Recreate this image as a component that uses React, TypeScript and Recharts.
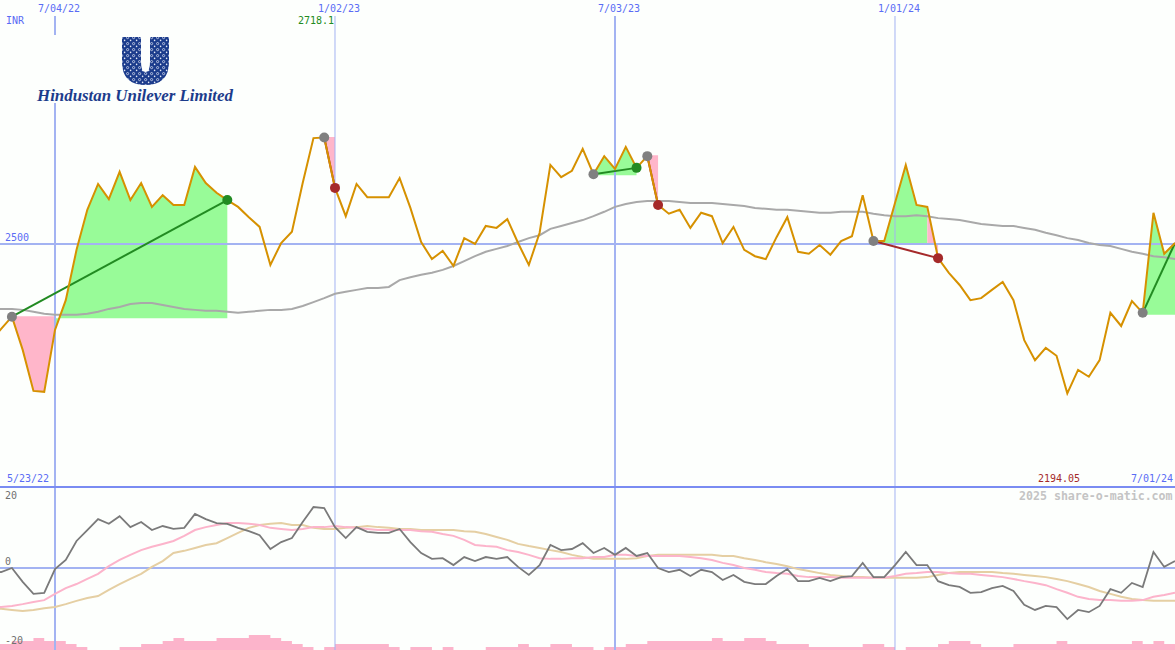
import React from 'react';
import { ComposedChart, Area, Line, XAxis, YAxis, ReferenceLine } from 'recharts';

// weeks counted from 5/23/22, one value per week
const price = [
  2300, 2326, 2351, 2283, 2199, 2197, 2324, 2385, 2488, 2570,
  2623, 2592, 2648, 2590, 2625, 2576, 2600, 2580, 2580, 2658,
  2625, 2605, 2590, 2576, 2555, 2535, 2457, 2502, 2525, 2625,
  2717, 2718.1, 2615, 2557, 2623, 2596, 2596, 2596, 2635, 2574,
  2504, 2469, 2486, 2455, 2512, 2500, 2537, 2533, 2551, 2502,
  2457, 2523, 2662, 2637, 2650, 2695, 2643, 2680, 2654, 2699,
  2656, 2680, 2580, 2562, 2570, 2533, 2564, 2557, 2502, 2535,
  2488, 2475, 2469, 2514, 2555, 2484, 2480, 2498, 2478, 2506,
  2516, 2600, 2506, 2506, 2584, 2662, 2580, 2576, 2471, 2441,
  2416, 2385, 2389, 2406, 2422, 2385, 2303, 2262, 2287, 2271,
  2194.05, 2242, 2228, 2262, 2359, 2332, 2383, 2359, 2564, 2480,
  2502,
];

const movingAvg = [
  2367, 2367, 2367, 2365, 2361, 2357, 2355, 2355, 2355, 2357,
  2361, 2367, 2371, 2377, 2379, 2379, 2375, 2371, 2367, 2365,
  2363, 2363, 2361, 2359, 2361, 2363, 2365, 2365, 2367, 2373,
  2381, 2389, 2398, 2402, 2406, 2410, 2410, 2412, 2426, 2432,
  2437, 2441, 2447, 2455, 2465, 2475, 2484, 2490, 2496, 2504,
  2512, 2518, 2531, 2537, 2543, 2549, 2557, 2566, 2576, 2582,
  2586, 2588, 2588, 2588, 2586, 2584, 2584, 2584, 2582, 2580,
  2578, 2574, 2572, 2570, 2570, 2568, 2566, 2564, 2564, 2566,
  2566, 2566, 2562, 2559, 2557, 2557, 2559, 2557, 2553, 2551,
  2549, 2545, 2541, 2539, 2537, 2537, 2533, 2529, 2523, 2518,
  2512, 2508, 2502, 2498, 2496, 2490, 2484, 2480, 2475, 2473,
  2469,
];

const momentum = [
  -1.6, -1.1, 0, -3.8, -7.1, -6.8, -0.3, 2.2, 7.4, 10.4,
  13.4, 12.1, 14.2, 11.2, 12.6, 10.4, 11.5, 10.7, 11, 14.8,
  13.4, 12.3, 12.1, 11, 10.1, 9, 5.2, 7.1, 8.2, 12.6,
  16.7, 16.4, 11.2, 8.2, 11.2, 9.9, 9.6, 9.6, 10.7, 7.1,
  4.1, 2.5, 2.7, 0.8, 3, 1.9, 3, 2.5, 3, 0.3,
  -1.9, 0.8, 6.3, 4.9, 5.2, 6.8, 4.1, 5.5, 3.6, 5.5,
  3.3, 4.1, 0, -1.1, -0.5, -2.2, -0.5, -1.1, -3.3, -1.9,
  -3.8, -4.4, -4.4, -2.2, -0.3, -3.6, -3.6, -2.7, -3.6, -2.5,
  -2.2, 1.4, -2.5, -2.5, 0.8, 4.4, 0.8, 0.8, -3.6, -4.7,
  -5.2, -6.8, -6.6, -5.5, -4.9, -6.3, -10.1, -11.5, -10.4, -10.7,
  -14, -11.5, -12.1, -10.4, -5.8, -6.8, -4.1, -5.2, 4.4, 0.3,
  1.9,
];

const fastSignal = [
  -10.9, -10.7, -10.4, -9.9, -9.3, -8.8, -7.1, -5.5, -4.4, -3,
  -1.6, 0.5, 2.2, 3.6, 4.9, 5.8, 6.6, 7.4, 8.8, 10.4,
  11.2, 11.8, 12.3, 12.3, 12.1, 11.8, 11, 10.7, 10.4, 10.7,
  11.2, 11.2, 11.5, 11.2, 11, 10.7, 10.4, 10.4, 10.4, 10.4,
  10.1, 9.9, 9.3, 8.8, 7.7, 6.3, 6, 5.8, 4.9, 4.4,
  3.6, 2.7, 2.5, 2.5, 2.7, 2.7, 3, 3, 3.6, 3.6,
  3.3, 3.3, 3.3, 3.3, 3.3, 3, 2.7, 2.2, 1.4, 0.8,
  0, -0.5, -1.1, -1.4, -1.6, -2.2, -2.5, -2.5, -2.5, -2.7,
  -2.7, -2.7, -2.7, -2.7, -2.2, -1.6, -1.4, -1.1, -1.1, -1.4,
  -1.6, -1.6, -1.9, -2.2, -2.5, -3, -3.6, -4.1, -4.7, -5.8,
  -6.8, -7.9, -8.5, -8.8, -8.8, -9, -9, -8.8, -7.9, -7.4,
  -6.8,
];

const slowSignal = [
  -11, -11.2, -11.5, -11.8, -11.5, -11, -10.7, -9.9, -9, -8.2,
  -7.7, -6, -4.4, -3, -1.6, 0.3, 1.9, 4.1, 4.7, 5.5,
  6.3, 6.8, 8.2, 9.6, 11, 11.8, 12.1, 12.3, 11.8, 11.8,
  11, 10.7, 10.7, 11, 11.2, 11.5, 11.2, 11, 10.7, 10.7,
  10.4, 10.4, 10.4, 10.4, 10.1, 9.9, 9.3, 8.5, 7.7, 6.6,
  6, 5.5, 4.9, 4.4, 3.6, 3, 2.5, 2.5, 2.5, 2.5,
  2.7, 3.3, 3.6, 3.6, 3.6, 3.6, 3.6, 3.6, 3.3, 3.3,
  2.7, 2.2, 1.6, 1.1, 0.5, -0.3, -0.8, -1.4, -1.9, -2.2,
  -2.5, -2.5, -2.7, -2.7, -2.7, -2.7, -2.7, -2.5, -1.9, -1.4,
  -1.1, -1.1, -1.1, -1.1, -1.4, -1.6, -1.9, -2.2, -2.5, -3,
  -3.6, -4.4, -5.2, -6.3, -7.1, -7.9, -8.5, -8.8, -9, -9,
  -9,
];

const volume = [
  2, 2, 3, 3, 4, 3, 3, 2, 1, 0,
  0, 0, 1, 1, 2, 2, 3, 4, 3, 3,
  3, 4, 4, 4, 5, 5, 4, 3, 2, 1,
  0, 1, 2, 2, 2, 2, 2, 1, 0, 1,
  1, 0, 1, 0, 0, 0, 1, 1, 1, 2,
  1, 1, 2, 2, 1, 1, 0, 1, 1, 2,
  2, 3, 3, 3, 3, 3, 3, 4, 3, 3,
  4, 4, 3, 2, 2, 2, 1, 1, 1, 1,
  1, 2, 2, 1, 0, 1, 1, 1, 2, 3,
  3, 2, 1, 1, 1, 2, 2, 2, 2, 3,
  2, 2, 2, 2, 2, 2, 3, 2, 3, 2,
  2,
];

// [first week, last week, base price]
const gainSpans = [[6, 22, 2348], [56, 60, 2641], [82, 87, 2502], [107, 110, 2355]];
const lossSpans = [[2, 6, 2352], [31, 32, 2719], [61, 62, 2682], [87, 88, 2502]];

// [entry week, exit week]
const trades = [[2, 22], [31, 32], [56, 60], [61, 62], [82, 88], [107, 110]];
const winExits = [22, 60];
const lossExits = [32, 62, 88];

const dateTicks = [6, 32, 58, 84];
const dateLabels = ['7/04/22', '1/02/23', '7/03/23', '1/01/24'];

const inSpan = (spans: number[][], week: number, value: number) => {
  const span = spans.find((s) => week >= s[0] && week <= s[1]);
  return span ? [span[2], value] : null;
};

const rows = price.map((value, week) => {
  const row: any = {
    week,
    price: value,
    movingAvg: movingAvg[week],
    momentum: momentum[week],
    fastSignal: fastSignal[week],
    slowSignal: slowSignal[week],
    volume: volume[week],
    gainBand: inSpan(gainSpans, week, value),
    lossBand: inSpan(lossSpans, week, value),
    entryMark: trades.some((t) => t[0] === week) ? value : null,
    winMark: winExits.includes(week) ? value : null,
    lossMark: lossExits.includes(week) ? value : null,
  };
  trades.forEach((t, i) => {
    row['trade' + i] = t[0] === week || t[1] === week ? value : null;
  });
  return row;
});

const MONO = '"DejaVu Sans Mono", monospace';
const BLUE = '#5a6cf5';
const GRID = '#a3b3f2';
const WEEK_DOMAIN = [0.893, 110];

const Note = ({ x, y, color, children, bold }: any) => (
  <div
    style={{
      position: 'absolute',
      left: x,
      top: y,
      font: (bold ? 'bold 11.6px ' : '10px ') + MONO,
      lineHeight: '12px',
      color,
      whiteSpace: 'nowrap',
    }}
  >
    {children}
  </div>
);

const Logo = () => (
  <svg width={300} height={120} style={{ position: 'absolute', left: 0, top: 0 }}>
    <defs>
      <pattern id="swirl" width="6" height="6" patternUnits="userSpaceOnUse">
        <rect width="6" height="6" fill="#1c3c8c" />
        <circle cx="1.6" cy="1.6" r="1.1" fill="none" stroke="#e4e9f6" strokeWidth="0.7" />
        <circle cx="4.6" cy="4.4" r="0.8" fill="#e4e9f6" />
      </pattern>
    </defs>
    <rect x={35} y={35} width={200} height={68} fill="#fdfffd" />
    <path
      d="M122 37 H141 V62 Q141 72 145.5 72 Q150 72 150 62 V37 H169 V62 Q169 85 145.5 85 Q122 85 122 62 Z"
      fill="url(#swirl)"
    />
    <text
      x={37}
      y={101}
      textLength={196}
      lengthAdjust="spacingAndGlyphs"
      fontFamily='"Liberation Serif", serif'
      fontStyle="italic"
      fontWeight="bold"
      fontSize={17}
      fill="#1c3c8c"
    >
      Hindustan Unilever Limited
    </text>
  </svg>
);

const App = () => (
  <div
    style={{
      position: 'absolute',
      left: 0,
      top: 0,
      width: 1175,
      height: 650,
      overflow: 'hidden',
      background: '#fdfffd',
    }}
  >
    <div style={{ position: 'absolute', left: 0, top: 0 }}>
      <ComposedChart width={1175} height={488} data={rows} margin={{ top: 0, right: 0, bottom: 0, left: 0 }}>
        <XAxis
          dataKey="week"
          type="number"
          orientation="top"
          height={16}
          domain={WEEK_DOMAIN}
          allowDataOverflow
          ticks={dateTicks}
          tickFormatter={(w) => dateLabels[dateTicks.indexOf(w)]}
          axisLine={false}
          tickLine={false}
          interval={0}
          tick={{ fontSize: 10, fontFamily: MONO, fill: BLUE, dx: 4, dy: 4 }}
        />
        <YAxis hide type="number" domain={[2000, 2967.2]} allowDataOverflow />
        <ReferenceLine x={6} stroke={GRID} strokeWidth={2} />
        <ReferenceLine x={32} stroke={GRID} strokeWidth={1} />
        <ReferenceLine x={58} stroke={GRID} strokeWidth={2} />
        <ReferenceLine x={84} stroke={GRID} strokeWidth={1} />
        <ReferenceLine y={2500} stroke={GRID} strokeWidth={2} />
        <ReferenceLine y={2002} stroke="#7a8cf2" strokeWidth={2} />
        <Area dataKey="gainBand" stroke="none" fill="#98fb98" fillOpacity={1} dot={false} activeDot={false} isAnimationActive={false} />
        <Area dataKey="lossBand" stroke="none" fill="#ffb6ca" fillOpacity={1} dot={false} activeDot={false} isAnimationActive={false} />
        <Line dataKey="movingAvg" stroke="#a9a9a9" strokeWidth={2} dot={false} activeDot={false} isAnimationActive={false} />
        <Line dataKey="entryMark" stroke="none" dot={{ r: 5, fill: '#808080', stroke: 'none' }} activeDot={false} isAnimationActive={false} />
        <Line dataKey="winMark" stroke="none" dot={{ r: 5, fill: '#228b22', stroke: 'none' }} activeDot={false} isAnimationActive={false} />
        <Line dataKey="lossMark" stroke="none" dot={{ r: 5, fill: '#a52a2a', stroke: 'none' }} activeDot={false} isAnimationActive={false} />
        {trades.map((t, i) => (
          <Line
            key={i}
            dataKey={'trade' + i}
            connectNulls
            stroke={t[1] === 32 || t[1] === 62 || t[1] === 88 ? '#a52a2a' : '#228b22'}
            strokeWidth={2}
            dot={false}
            activeDot={false}
            isAnimationActive={false}
          />
        ))}
        <Line dataKey="price" stroke="#d69100" strokeWidth={2} dot={false} activeDot={false} isAnimationActive={false} />
      </ComposedChart>
    </div>
    <div style={{ position: 'absolute', left: 0, top: 488 }}>
      <ComposedChart width={1175} height={162} data={rows} margin={{ top: 0, right: 0, bottom: 0, left: 0 }}>
        <XAxis hide dataKey="week" type="number" domain={WEEK_DOMAIN} allowDataOverflow />
        <YAxis hide yAxisId="macd" type="number" domain={[-22.47, 21.92]} allowDataOverflow />
        <YAxis hide yAxisId="vol" type="number" domain={[0, 54]} allowDataOverflow />
        <ReferenceLine yAxisId="macd" x={6} stroke={GRID} strokeWidth={2} />
        <ReferenceLine yAxisId="macd" x={32} stroke={GRID} strokeWidth={1} />
        <ReferenceLine yAxisId="macd" x={58} stroke={GRID} strokeWidth={2} />
        <ReferenceLine yAxisId="macd" x={84} stroke={GRID} strokeWidth={1} />
        <ReferenceLine yAxisId="macd" y={0} stroke={GRID} strokeWidth={2} />
        <Area yAxisId="vol" dataKey="volume" type="stepAfter" stroke="none" fill="#fcb4cb" fillOpacity={1} dot={false} activeDot={false} isAnimationActive={false} />
        <Line yAxisId="macd" dataKey="slowSignal" stroke="#e5cfa3" strokeWidth={2} dot={false} activeDot={false} isAnimationActive={false} />
        <Line yAxisId="macd" dataKey="fastSignal" stroke="#fcb4cb" strokeWidth={2} dot={false} activeDot={false} isAnimationActive={false} />
        <Line yAxisId="macd" dataKey="momentum" stroke="#7a7a7a" strokeWidth={1.8} dot={false} activeDot={false} isAnimationActive={false} />
      </ComposedChart>
    </div>
    <Logo />
    <Note x={6} y={15} color={BLUE}>INR</Note>
    <Note x={298} y={15} color="#228b22">2718.1</Note>
    <Note x={5} y={232} color={BLUE}>2500</Note>
    <Note x={7} y={473} color={BLUE}>5/23/22</Note>
    <Note x={1038} y={473} color="#a52a2a">2194.05</Note>
    <Note x={1131} y={473} color={BLUE}>7/01/24</Note>
    <Note x={1019} y={490} color="#c4c4c4" bold>2025 share-o-matic.com</Note>
    <Note x={5} y={490} color="#707070">20</Note>
    <Note x={5} y={556} color="#707070">0</Note>
    <Note x={5} y={635} color="#707070">-20</Note>
  </div>
);

export default App;
